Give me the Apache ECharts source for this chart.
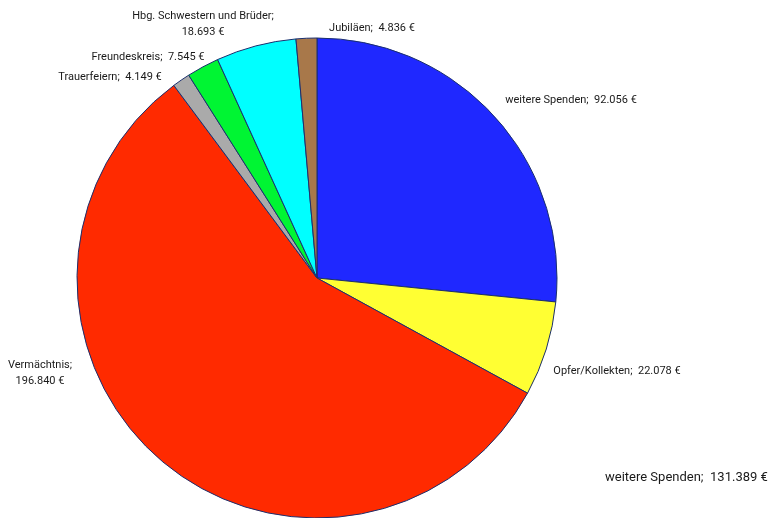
<!DOCTYPE html>
<html>
<head>
<meta charset="utf-8">
<script src="https://cdn.jsdelivr.net/npm/echarts@6/dist/echarts.min.js"></script>
<style>
  html, body { margin: 0; padding: 0; background: #fff; }
  #chart { width: 772px; height: 518px; }
</style>
</head>
<body>
<div id="chart"></div>
<script>
// Spenden nach Art, Werte in Euro
var names = ['weitere Spenden', 'Opfer/Kollekten', 'Vermächtnis', 'Trauerfeiern', 'Freundeskreis', 'Hbg. Schwestern und Brüder', 'Jubiläen'];
var values = [92056, 22078, 196840, 4149, 7545, 18693, 4836];
var labelTexts = ['weitere Spenden;  92.056 €', 'Opfer/Kollekten;  22.078 €', 'Vermächtnis;\n196.840 €', 'Trauerfeiern;  4.149 €', 'Freundeskreis;  7.545 €', 'Hbg. Schwestern und Brüder;\n18.693 €', 'Jubiläen;  4.836 €'];
var colors = ['#1f28ff', '#ffff33', '#ff2a00', '#aaaaaa', '#00f533', '#00ffff', '#a8784a'];
var totalText = 'weitere Spenden;  131.389 €';

// where Excel put each label (centre of the text block)
var labelPos = [[571, 100], [617, 371], [40, 373], [110, 77], [148, 57], [203, 24], [372, 28]];

var chart = echarts.init(document.getElementById('chart'));

var pieData = names.map(function (n, i) {
  return { name: n, value: values[i], itemStyle: { color: colors[i] } };
});

chart.setOption({
  animation: false,
  textStyle: { fontFamily: 'Roboto' },
  title: {
    text: totalText,
    left: 600,
    top: 466,
    textStyle: { fontSize: 13, fontWeight: 'normal', color: '#1a1a1a', fontFamily: 'Roboto' }
  },
  series: [{
    type: 'pie',
    center: [317, 278],
    radius: 240,
    startAngle: 90,
    clockwise: true,
    avoidLabelOverlap: false,
    itemStyle: { borderColor: '#1b2f6e', borderWidth: 1 },
    label: {
      show: true,
      position: 'outside',
      fontSize: 11,
      lineHeight: 16,
      color: '#1a1a1a',
      formatter: function (p) { return labelTexts[p.dataIndex]; }
    },
    labelLine: { show: false },
    labelLayout: function (p) {
      var pos = labelPos[p.dataIndex];
      return { x: pos[0], y: pos[1], align: 'center', verticalAlign: 'middle' };
    },
    emphasis: { disabled: true },
    data: pieData
  }]
});
</script>
</body>
</html>
